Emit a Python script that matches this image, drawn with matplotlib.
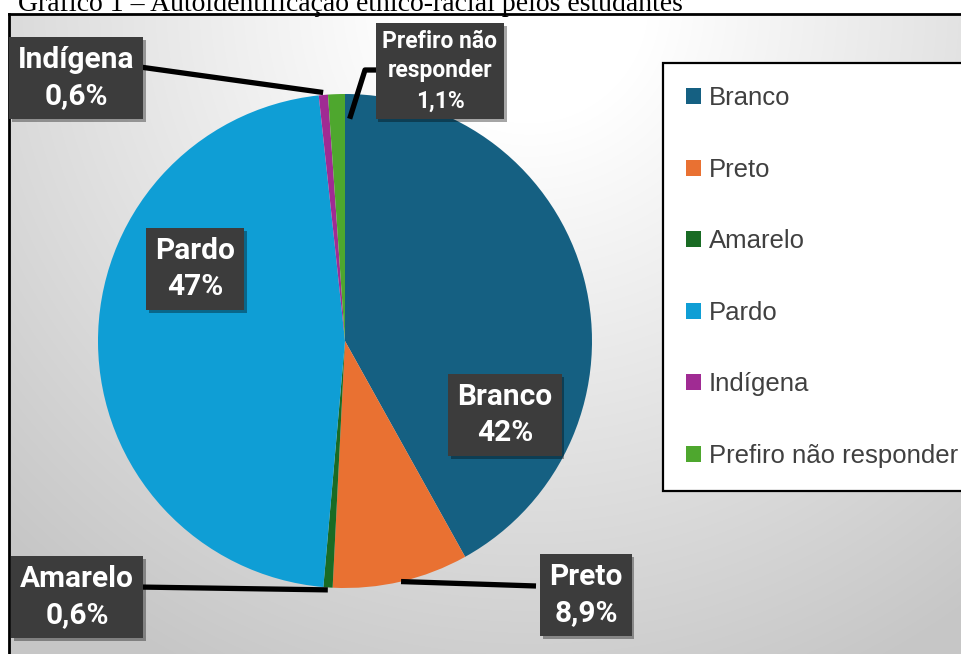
import numpy as np
import matplotlib
matplotlib.use("Agg")
import matplotlib.pyplot as plt
import matplotlib.patheffects as pe
from matplotlib import font_manager

categorias = ["Branco", "Preto", "Amarelo", "Pardo", "Indígena", "Prefiro não responder"]
percentuais = [42, 8.9, 0.6, 47, 0.6, 1.1]
rotulos = ["Branco", "Preto", "Amarelo", "Pardo", "Indígena", "Prefiro não\nresponder"]
cores = ["#156082", "#E97132", "#196B24", "#0F9ED5", "#A02B93", "#4EA72E"]
titulo = "Gráfico 1 – Autoidentificação étnico-racial pelos estudantes"

nomes = {f.name for f in font_manager.fontManager.ttflist}
narrow = "Liberation Sans Narrow" if "Liberation Sans Narrow" in nomes else "Roboto"

W, H = 962, 654
fig = plt.figure(figsize=(W / 100, H / 100), dpi=100)
fig.patch.set_facecolor("white")

# fundo com gradiente radial
bg = fig.add_axes([9 / W, 0, 1 - 9 / W, 1 - 13.5 / H])
yy, xx = np.mgrid[0:640, 0:953]
d = np.hypot(xx - 520, (yy + 10) * 1.0)
v = np.clip((d - 120) / 620, 0, 1)
g = 1.0 - 0.22 * v
bg.imshow(np.dstack([g, g, g]), aspect="auto", extent=(0, 1, 0, 1), origin="upper")
bg.set_xlim(0, 1)
bg.set_ylim(0, 1)
bg.set_xticks([])
bg.set_yticks([])
for s in ["right", "bottom"]:
    bg.spines[s].set_visible(False)
for s in ["left", "top"]:
    bg.spines[s].set_linewidth(2)
    bg.spines[s].set_color("black")

fig.text(18 / W, 1 - 11 / H, titulo, family="Liberation Serif", fontsize=20,
         va="baseline", ha="left")

# pizza: centro (345, 341) px, raio 247 px
cx, cy, R = 345, 341, 247
ax = fig.add_axes([0, 0, 1, 1 - 14 / H])
ax.patch.set_visible(False)
wedges, _ = ax.pie(percentuais, colors=cores, startangle=90, counterclock=False,
                   radius=1, wedgeprops=dict(linewidth=0))
top_px = 14
ax.set_xlim(-cx / R, (W - cx) / R)
ax.set_ylim((cy - H) / R, (cy - top_px) / R)
ax.set_aspect("auto")
ax.axis("off")


def px(x, y):
    return (x - cx) / R, (cy - y) / R


def fmt(v):
    return f"{v:g}%".replace(".", ",")


caixa = dict(boxstyle="square,pad=0.3", fc="#3c3c3c", ec="none")

# posicoes das caixas (px) e pontos de saida das linhas
pos = {
    "Branco": (505, 415),
    "Preto": (586, 595),
    "Amarelo": (77, 597),
    "Pardo": (195, 269),
    "Indígena": (76, 78),
    "Prefiro não responder": (440, 71),
}
saida = {
    "Preto": [(536, 586)],
    "Amarelo": [(137, 587)],
    "Indígena": [(140, 67)],
    "Prefiro não responder": [(377, 70), (365, 70)],
}
raio_ancora = {"Preto": 1.0, "Amarelo": 1.01, "Indígena": 1.01, "Prefiro não responder": 0.9}

for w, cat, rot, val in zip(wedges, categorias, rotulos, percentuais):
    mid = np.deg2rad((w.theta1 + w.theta2) / 2)
    if cat in saida:
        r = raio_ancora[cat]
        if cat == "Prefiro não responder":
            mid = np.deg2rad(w.theta1 - 1.2)
        pts = [px(*p) for p in saida[cat]] + [(r * np.cos(mid), r * np.sin(mid))]
        xs, ys = zip(*pts)
        ax.plot(xs, ys, color="black", lw=3.8, solid_capstyle="butt", clip_on=False, zorder=3)
    fs = 16.5 if cat == "Prefiro não responder" else 21.5
    t = ax.text(*px(*pos[cat]), f"{rot}\n{fmt(val)}", ha="center", va="center",
                color="white", fontsize=fs, fontweight="bold", family=narrow,
                linespacing=1.38, bbox=caixa, zorder=5)
    t.get_bbox_patch().set_path_effects([
        pe.SimplePatchShadow(offset=(2, -2), shadow_rgbFace="black", alpha=0.35), pe.Normal()])

leg = ax.legend(wedges, categorias, loc="upper left",
                bbox_to_anchor=(663 / W, 0, 0.4, 1 - 63 / H), bbox_transform=fig.transFigure,
                mode="expand", frameon=True, fancybox=False, edgecolor="black",
                facecolor="white", framealpha=1,
                prop=dict(family="Liberation Sans", size=18.5),
                labelspacing=1.85, borderpad=0.9, handlelength=0.58, handleheight=0.58,
                handletextpad=0.3, borderaxespad=0)
leg.get_frame().set_linewidth(1.6)
for tx in leg.get_texts():
    tx.set_color("#404040")

fig.savefig("out.png", dpi=100)
